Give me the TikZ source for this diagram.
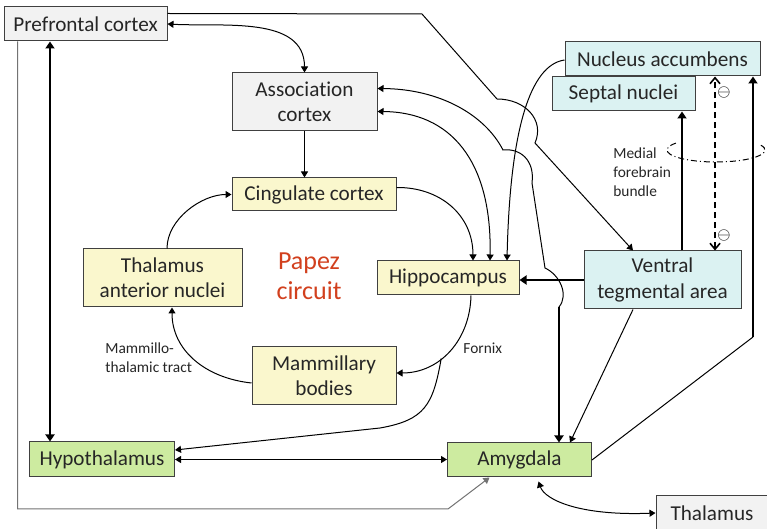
\documentclass[tikz,border=0pt]{standalone}
\usepackage{fontspec}
\setmainfont{Carlito}[Ligatures=NoCommon]
\usetikzlibrary{arrows.meta,calc}
\definecolor{boxgray}{HTML}{F2F2F2}
\definecolor{boxyellow}{HTML}{FAF7CD}
\definecolor{boxcyan}{HTML}{DBF2F2}
\definecolor{boxgreen}{HTML}{CDEBA0}
\definecolor{edgegray}{HTML}{404040}
\definecolor{papezred}{HTML}{D2401E}
\begin{document}
\begin{tikzpicture}[x=0.5pt, y=-0.5pt,
  region/.style={draw=edgegray, line width=0.5pt, inner sep=0pt, align=center,
    text=black!85, font=\fontsize{10.6}{12.6}\selectfont},
  boxsize/.style 2 args={minimum width=#1*0.5pt, minimum height=#2*0.5pt},
  link/.style={line width=0.5pt, >={Triangle[length=3pt,width=3.5pt]}},
  tract/.style={line width=1pt, >={Triangle[length=3.5pt,width=4.5pt]}},
  small/.style={inner sep=0pt, align=left, text=black!85, font=\fontsize{7.7}{9.5}\selectfont}]
  \useasboundingbox[fill=white] (0,0) rectangle (767,529);
  % Regions
  \node[region, fill=boxgray, boxsize={163}{34}] (pfc) at (85.5,24) {Prefrontal cortex};
  \node[region, fill=boxgray, boxsize={145}{58}] (assoc) at (304.5,102) {Association\\cortex};
  \node[region, fill=boxyellow, boxsize={164}{33}] (cing) at (314,194.5) {Cingulate cortex};
  \node[region, fill=boxyellow, boxsize={159}{58}] (thalant) at (162.5,278) {Thalamus\\anterior nuclei};
  \node[region, fill=boxyellow, boxsize={142}{34}] (hippo) at (448,278) {Hippocampus};
  \node[region, fill=boxyellow, boxsize={144}{58}] (mamm) at (324,376) {Mammillary\\bodies};
  \node[region, fill=boxcyan, boxsize={157}{58}] (vta) at (662.5,280) {Ventral\\tegmental area};
  \node[region, fill=boxcyan, boxsize={195}{34}] (nacc) at (662.5,59) {Nucleus accumbens};
  \node[region, fill=boxcyan, boxsize={143}{34}] (septal) at (623.5,94) {Septal nuclei};
  \node[region, fill=boxgreen, boxsize={145}{35}] (hypo) at (102,459.5) {Hypothalamus};
  \node[region, fill=boxgreen, boxsize={144}{34}] (amyg) at (519.5,460) {Amygdala};
  \node[region, fill=boxgray, boxsize={112}{34}] (thal) at (712,513) {Thalamus};
  % Title of the loop
  \node[text=papezred, align=center, font=\fontsize{13}{15}\selectfont] (papez) at (309,276) {Papez\\circuit};
  % Labels
  \node[small, anchor=west] (fornixlbl) at (463,348) {Fornix};
  \node[small, anchor=west] (mtlbl) at (105,357.5) {Mammillo-\\thalamic tract};
  \node[small, anchor=west] (mfblbl) at (613,172) {Medial\\forebrain\\bundle};

  % Papez circuit
  \draw[link, ->] (assoc.south) -- (assoc.south |- cing.north);
  \draw[link, ->] ($(thalant.north)+(4.5,0)$) to[out=90, in=180, looseness=0.9] (cing.west);
  \draw[link, ->] ($(cing.east)+(0,-7)$) .. controls (440,187) and (473,215) .. ($(hippo.north)+(25,0)$);
  \draw[link, ->] ($(hippo.south)+(23,0)$) .. controls (470,340) and (440,373) .. ($(mamm.east)+(0,-3)$)
    coordinate[pos=0.6] (fx);
  \draw[link, ->] ($(mamm.west)+(0,7)$) .. controls (205,378) and (172,350) .. ($(thalant.south)+(9.5,0)$);
  % Fornix branch to hypothalamus
  \draw[link, ->] (fx) .. controls (433,405) and (425,420) .. (380,428) -- ($(hypo.east)+(0,-9.5)$);

  % Cortex links
  \draw[link, <->] (pfc.east) to[out=-3, in=90] (assoc.north);
  \draw[link, <->] ($(assoc.north east)+(0,39)$) .. controls (450,112) and (492,160) .. ($(hippo.north)+(42,0)$);
  \draw[link, <-] ($(assoc.north east)+(0,16)$) .. controls (440,89) and (485,115) .. (503,150)
    .. controls (520,148) and (535,160) .. (532,183) -- (545,268)
    .. controls (560,275) and (569,295) .. (559,307) coordinate (jumpA);
  \draw[tract, ->] (jumpA) -- (jumpA |- amyg.north);
  \draw[link, ->] ($(nacc.west)+(0,1)$) .. controls (530,65) and (510,130) .. ($(hippo.north)+(59,0)$);
  \draw[link, ->] ($(pfc.north east)+(0,7)$) -- (422,14) -- (497,99)
    .. controls (525,99) and (545,120) .. (535,143) -- ($(vta.north)+(-29.5,0)$);

  % Ventral tegmental area
  \coordinate (septfoot) at ($(vta.north)+(19.5,0)$);
  \coordinate (inhfoot) at ($(vta.north)+(52.5,0)$);
  \draw[tract, ->] (vta.west) -- (vta.west -| hippo.east);
  \draw[tract, ->] (septfoot) -- (septfoot |- septal.south);
  \draw[link, densely dashed, line width=0.8pt, {Straight Barb[length=3pt,width=5pt]}-{Straight Barb[length=3pt,width=5pt]}]
    (inhfoot) -- (inhfoot |- nacc.south);
  \node[inner sep=0pt, font=\fontsize{8}{9}\selectfont] (inhtop) at (724,93) {$\ominus$};
  \node[inner sep=0pt, font=\fontsize{8}{9}\selectfont] (inhbot) at (724,236) {$\ominus$};
  \draw[link, ->] ($(vta.south)+(-29.5,0)$) -- ($(amyg.north)+(50.5,0)$);
  % Medial forebrain bundle (front half only)
  \draw[line width=0.5pt, dash pattern=on 3pt off 1.5pt on 0.5pt off 1.5pt]
    (716,150) ++(215:49 and 12) arc[start angle=215, end angle=-25, x radius=49, y radius=12];

  % Amygdala and hypothalamus
  \draw[tract, <->] ([xshift=-17.75pt]pfc.south) -- ([xshift=-17.75pt]pfc.south |- hypo.north);
  \draw[link, <->] (hypo.east) -- (hypo.east -| amyg.west);
  \draw[link, ->, draw=black!55] ($(pfc.south west)+(14,0)$) |- (448,509) -- ($(amyg.south)+(-30,0)$);
  \draw[link, <->] ($(amyg.south)+(19,4)$) .. controls (545,500) and (580,516) .. (thal.west);
  \coordinate (nbend) at (753,337);
  \draw[link] (amyg.east) -- (nbend);
  \draw[tract, ->] (nbend) -- (nbend |- nacc.south);
\end{tikzpicture}
\end{document}
